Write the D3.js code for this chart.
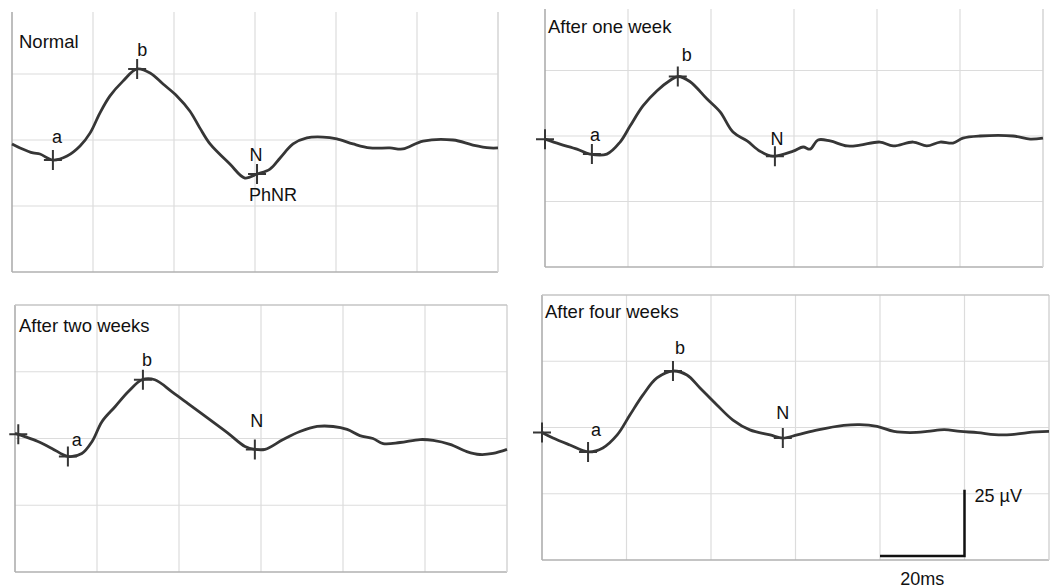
<!DOCTYPE html>
<html>
<head>
<meta charset="utf-8">
<script src="https://cdn.jsdelivr.net/npm/d3@7"></script>
<style>
  html, body { margin: 0; padding: 0; background: #fff; }
  svg { display: block; font-family: "Liberation Sans", Arial, sans-serif; }
</style>
</head>
<body>
<svg id="chart" width="1050" height="588"></svg>
<script>
// ERG traces, time in ms, amplitude in µV (0 = baseline grid line)
const panelTitles = ['Normal', 'After one week', 'After two weeks', 'After four weeks'];

const normalTrace = [[0,-1.5],[2,-3],[5.2,-4.9],[6.9,-5.3],[10.1,-7.6],[13.6,-6.1],[16.8,-2.3],
  [19.3,2.7],[21.7,10.2],[24.2,16.7],[27.4,22.3],[30.9,26.9],[34.1,25.4],[37.3,21.2],[40.7,16.7],
  [43.9,11],[46.4,4.5],[48.9,-1.5],[53.8,-9.1],[57.5,-14.4],[60.5,-12.9],[63.7,-11],[66.2,-6.8],
  [69.4,-1.5],[72.8,0.8],[76.8,1.1],[80.2,0.4],[84.2,-1.5],[88.4,-3],[93.3,-3],[96.5,-3.4],
  [101.5,-0.4],[108.9,0],[113.8,-1.9],[118,-3],[120,-3]];

const weekOneTrace = [[0,-1.2],[3.6,-3.1],[7.7,-5],[10.8,-6.9],[14.9,-6.9],[18.1,-2.3],[20.5,3.8],
  [23.6,11.5],[27,17.3],[30.1,21.2],[32,22.7],[34.9,20.8],[39,14.2],[42.2,9.2],[45.3,1.5],
  [48.7,-1.9],[51.8,-5.8],[54.9,-7.7],[59.8,-5.8],[62.2,-4.2],[63.9,-5],[65.8,-1.5],[68.7,-1.9],
  [72.8,-3.8],[75.9,-3.5],[80.7,-2.3],[83.9,-3.8],[88.7,-2.3],[92,-3.8],[95.2,-2.3],[98.3,-2.7],
  [100.7,-0.8],[104.8,0],[112.8,0],[116.9,-1.2],[120,-0.8]];

const weekTwoTrace = [[0,1.9],[2.4,0.7],[5.6,-1.1],[9,-3.7],[12.9,-6.7],[16.3,-5.6],[18.8,-1.1],
  [21.2,6.3],[24.4,11.9],[27.6,17.5],[31,22],[34.1,22],[38.3,17.5],[42.2,13.1],[47.1,7.5],
  [52,1.9],[56.1,-3],[58.5,-4.1],[61,-4.1],[65.4,-0.4],[69.5,2.6],[73.7,4.5],[77.6,4.5],
  [81,3.4],[84.1,1.1],[87.3,0],[89.8,-1.9],[93.9,-1.5],[98.8,-0.4],[102,-0.7],[106.1,-2.2],
  [110.2,-4.9],[113.4,-6],[116.6,-5.6],[120,-4.1]];

const weekFourTrace = [[0,-1.9],[2.6,-4],[6.6,-6.6],[10.9,-9.2],[14.4,-7.7],[17.8,-2.8],[20.8,4.7],
  [23.9,12.3],[27.2,18.7],[31,21.3],[34.3,19.8],[37.4,14.9],[41.4,8.5],[45.2,2.8],[49.2,-0.9],
  [54,-2.8],[57,-4],[60.4,-2.8],[65.3,-0.9],[71.4,0.8],[75.2,1.1],[79.3,0.4],[83.3,-1.5],
  [87.1,-1.9],[91.2,-1.5],[95.2,-0.8],[99,-1.5],[103.1,-1.9],[107.1,-2.7],[111,-2.7],[115,-1.9],
  [120,-1.5]];

// marked components: name, time (ms), amplitude (µV)
const normalMarks   = [['a',10.1,-7.6],['b',30.9,26.9],['N',60.5,-12.9]];
const weekOneMarks  = [['',0,-1.2],['a',11.3,-6.9],['b',32,22.7],['N',55.4,-7.7]];
const weekTwoMarks  = [['',0.8,1.6],['a',12.9,-6.7],['b',31.2,22],['N',58.5,-4.1]];
const weekFourMarks = [['',0,-1.9],['a',10.9,-9.2],['b',31,21.3],['N',57,-4]];

const timeTicks = [0, 20, 40, 60, 80, 100, 120];
const voltTicks = [-50, -25, 0, 25, 50];

// layout of the four scanned panels
const panels = [
  { x: 12,  y: 8,   w: 486, h: 264, top: false, trace: normalTrace,   marks: normalMarks,
    title: [7, 40], off: { a: [4, -17], b: [5, -13], N: [-1, -13] } },
  { x: 545, y: 5,   w: 498, h: 262, top: false, trace: weekOneTrace,  marks: weekOneMarks,
    title: [3, 28], off: { a: [3, -13], b: [9, -16], N: [2, -11] } },
  { x: 15,  y: 305, w: 492, h: 267, top: true,  trace: weekTwoTrace,  marks: weekTwoMarks,
    title: [4, 27], off: { a: [9, -10], b: [4, -14], N: [2, -22] } },
  { x: 542, y: 295, w: 507, h: 265, top: true,  trace: weekFourTrace, marks: weekFourMarks,
    title: [3, 23], off: { a: [8, -16], b: [7, -17], N: [0, -19] } }
];

const svg = d3.select('#chart');
const ink = '#363636';

panels.forEach((p, i) => {
  const g = svg.append('g').attr('transform', `translate(${p.x},${p.y})`);
  const x = d3.scaleLinear().domain([0, 120]).range([0, p.w]);
  const y = d3.scaleLinear().domain([-50, 50]).range([p.h, 0]);

  // grid
  g.append('g').selectAll('line')
    .data(timeTicks.slice(1, -1))
    .enter().append('line')
    .attr('x1', d => x(d)).attr('x2', d => x(d))
    .attr('y1', p.top ? 0 : 4).attr('y2', p.h)
    .attr('stroke', '#dcdcdc').attr('stroke-width', 1.2);
  g.append('g').selectAll('line')
    .data(voltTicks.slice(1, -1))
    .enter().append('line')
    .attr('x1', 0).attr('x2', p.w)
    .attr('y1', d => y(d)).attr('y2', d => y(d))
    .attr('stroke', '#dcdcdc').attr('stroke-width', 1.2);

  // frame
  const frame = g.append('g').attr('fill', 'none').attr('stroke-width', 1.5);
  frame.append('line').attr('x1', 0).attr('x2', 0).attr('y1', p.top ? 0 : 4).attr('y2', p.h).attr('stroke', '#a8a8a8');
  frame.append('line').attr('x1', 0).attr('x2', p.w).attr('y1', p.h).attr('y2', p.h).attr('stroke', '#b0b0b0');
  frame.append('line').attr('x1', p.w).attr('x2', p.w).attr('y1', p.top ? 0 : 4).attr('y2', p.h).attr('stroke', '#d4d4d4');
  if (p.top) frame.append('line').attr('x1', 0).attr('x2', p.w).attr('y1', 0).attr('y2', 0).attr('stroke', '#c4c4c4');

  // trace
  const line = d3.line()
    .x(d => x(d[0])).y(d => y(d[1]))
    .curve(d3.curveCatmullRom.alpha(0.5));
  g.append('path')
    .datum(p.trace)
    .attr('d', line)
    .attr('fill', 'none')
    .attr('stroke', ink)
    .attr('stroke-width', 2.8)
    .attr('stroke-linejoin', 'round');

  // cursor marks
  const mk = g.append('g').selectAll('g')
    .data(p.marks)
    .enter().append('g')
    .attr('transform', d => `translate(${x(d[1])},${y(d[2])})`);
  mk.append('path')
    .attr('d', 'M-9,0H9M0,-10V10')
    .attr('stroke', ink).attr('stroke-width', 2);
  mk.filter(d => d[0] !== '')
    .append('text')
    .attr('x', d => p.off[d[0]][0])
    .attr('y', d => p.off[d[0]][1])
    .attr('text-anchor', 'middle')
    .attr('font-size', 18)
    .attr('fill', '#111')
    .text(d => d[0]);

  if (i === 0) {
    const n = p.marks[2];
    g.append('text')
      .attr('x', x(n[1]) + 16).attr('y', y(n[2]) + 27)
      .attr('text-anchor', 'middle')
      .attr('font-size', 18)
      .attr('fill', '#111')
      .text('PhNR');
  }

  g.append('text')
    .attr('x', p.title[0]).attr('y', p.title[1])
    .attr('font-size', 18.5)
    .attr('fill', '#111')
    .text(panelTitles[i]);

  // calibration bar in the last panel
  if (i === 3) {
    const bar = d3.path();
    bar.moveTo(x(80), y(-48.5));
    bar.lineTo(x(100), y(-48.5));
    bar.lineTo(x(100), y(-23.5));
    g.append('path').attr('d', bar.toString())
      .attr('fill', 'none').attr('stroke', '#111').attr('stroke-width', 2.5);
    g.append('text')
      .attr('x', x(100) + 10).attr('y', y(-23.5) + 12)
      .attr('font-size', 18).attr('fill', '#111')
      .text('25 µV');
    g.append('text')
      .attr('x', x(90)).attr('y', p.h + 25)
      .attr('text-anchor', 'middle')
      .attr('font-size', 18).attr('fill', '#111')
      .text('20ms');
  }
});
</script>
</body>
</html>
